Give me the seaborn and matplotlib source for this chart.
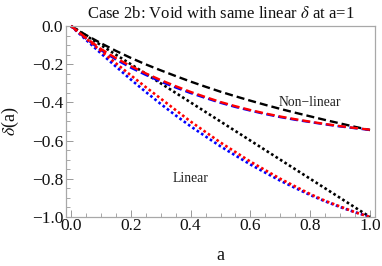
import numpy as np
import pandas as pd
import matplotlib
matplotlib.use("Agg")
import matplotlib.pyplot as plt
import seaborn as sns
from matplotlib.ticker import MultipleLocator

# ---- data ----
a_grid = [0.0, 0.05, 0.1, 0.15, 0.2, 0.25, 0.3, 0.35, 0.4, 0.45, 0.5,
          0.55, 0.6, 0.65, 0.7, 0.75, 0.8, 0.85, 0.9, 0.95, 1.0]

lin_black = [0.0, -0.05, -0.1, -0.15, -0.2, -0.25, -0.3, -0.35, -0.4, -0.45, -0.5,
             -0.55, -0.6, -0.65, -0.7, -0.75, -0.8, -0.85, -0.9, -0.95, -1.0]
lin_red = [0.0, -0.065, -0.13, -0.195, -0.258, -0.32, -0.38, -0.44, -0.50, -0.555, -0.61,
           -0.66, -0.71, -0.755, -0.80, -0.84, -0.88, -0.915, -0.945, -0.975, -1.0]
lin_blue = [0.0, -0.072, -0.143, -0.212, -0.28, -0.345, -0.408, -0.468, -0.525, -0.578, -0.63,
            -0.678, -0.725, -0.768, -0.81, -0.848, -0.885, -0.918, -0.948, -0.975, -1.0]

nl_black = [0.0, -0.047, -0.09, -0.13, -0.167, -0.201, -0.232, -0.262, -0.291, -0.318, -0.344,
            -0.368, -0.391, -0.413, -0.434, -0.454, -0.473, -0.492, -0.510, -0.528, -0.545]
nl_red = [0.0, -0.062, -0.12, -0.168, -0.21, -0.248, -0.283, -0.315, -0.345, -0.372, -0.398,
          -0.42, -0.44, -0.458, -0.474, -0.488, -0.501, -0.513, -0.524, -0.534, -0.543]
nl_blue = [0.0, -0.066, -0.126, -0.175, -0.218, -0.256, -0.291, -0.322, -0.351, -0.377, -0.402,
           -0.424, -0.443, -0.461, -0.477, -0.491, -0.503, -0.515, -0.526, -0.535, -0.544]

title = "Case 2b: Void with same linear $\\delta$ at a=1"
xlabel = "a"
ylabel = "$\\delta$(a)"
x_ticks = [0.0, 0.2, 0.4, 0.6, 0.8, 1.0]
y_ticks = [0.0, -0.2, -0.4, -0.6, -0.8, -1.0]

# ---- style ----
sns.set_style("ticks")
plt.rcParams['font.family'] = ['Liberation Serif', 'DejaVu Serif']
plt.rcParams['mathtext.fontset'] = 'stix'

fig = plt.figure(figsize=(3.82, 2.66), dpi=100)
ax = fig.add_axes([66/382, 49/266, 309/382, 191/266])

series = [
    (lin_black, "black", (0, (1.0, 1.0)), 1.9),
    (nl_black, "black", (0, (3.4, 1.7)), 1.7),
    (lin_blue, "#0000FF", (0, (1.0, 1.0)), 1.9),
    (nl_blue, "#0000FF", (0, (3.4, 1.7)), 1.7),
    (lin_red, "#FF0000", (0, (1.0, 1.0)), 1.9),
    (nl_red, "#FF0000", (0, (3.4, 1.7)), 1.7),
]
for vals, col, ls, lw in series:
    df = pd.DataFrame({"a": a_grid, "d": vals})
    sns.lineplot(data=df, x="a", y="d", ax=ax, color=col, linestyle=ls,
                 linewidth=lw, sort=False, estimator=None)
for ln in ax.lines:
    ln.set_clip_on(False)
    ln.set_dash_capstyle('butt')

ax.set_xlim(-0.0167, 1.0167)
ax.set_ylim(-1.0, 0.0)
ax.set_xticks(x_ticks)
ax.set_yticks(y_ticks)
ax.set_xticklabels(["%.1f" % t for t in x_ticks])
ax.set_yticklabels([("\u2212%.1f" % abs(t)) if t < 0 else "%.1f" % t for t in y_ticks])
ax.xaxis.set_minor_locator(MultipleLocator(0.05))
ax.yaxis.set_minor_locator(MultipleLocator(0.05))
ax.tick_params(which='major', direction='in', length=5, width=0.7, color='#999999',
               labelsize=12.5, labelcolor='#111111', top=False, right=False)
ax.tick_params(axis='x', which='major', pad=1)
ax.tick_params(axis='y', which='major', pad=2)
ax.tick_params(which='minor', direction='in', length=2.8, width=0.6, color='#999999',
               top=False, right=False)
for sp in ax.spines.values():
    sp.set_color('#a8a8a8')
    sp.set_linewidth(0.9)

ax.set_xlabel(xlabel, fontsize=13, labelpad=9, color='#111111')
ax.set_ylabel(ylabel, fontsize=13, color='#111111')
ax.yaxis.set_label_coords(-0.145, 0.5)
ax.set_title(title, fontsize=12, pad=6, color='#111111')

ax.text(0.40, -0.80, "Linear", fontsize=9.8, ha='center', va='center', color='#222222')
ax.text(0.80, -0.398, "Non\u2212linear", fontsize=9.8, ha='center', va='center', color='#222222')

fig.savefig("out.png", dpi=100)
